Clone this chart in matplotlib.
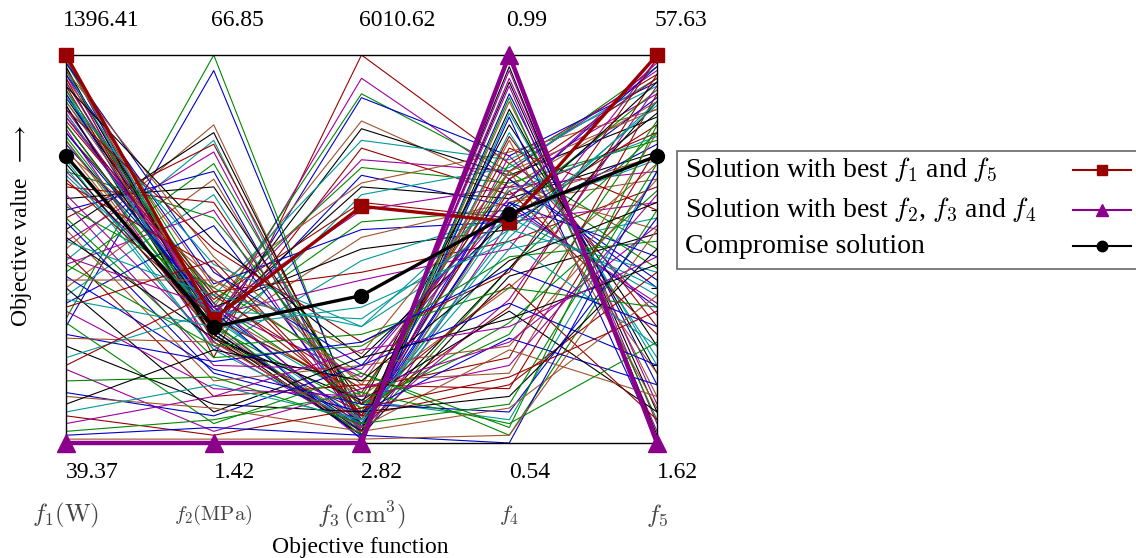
import numpy as np
import matplotlib
matplotlib.use("Agg")
import matplotlib.pyplot as plt
from matplotlib.lines import Line2D
from matplotlib.patches import Rectangle

plt.rcParams['font.family'] = ['Liberation Serif', 'DejaVu Serif']
plt.rcParams['mathtext.fontset'] = 'cm'

axis_names = [r'$f_1(\mathrm{W})$', r'$f_2(\mathrm{MPa})$', r'$f_3\,(\mathrm{cm}^3)$', r'$f_4$', r'$f_5$']
name_sizes = [18, 15, 18, 16, 18]
top_values = ['1396.41', '66.85', '6010.62', '0.99', '57.63']
bottom_values = ['39.37', '1.42', '2.82', '0.54', '1.62']

# normalised objective values (0 = min of axis, 1 = max of axis), one row per solution
# solutions that climb high on f3
ladder_lines = [
    [0.97, 0.22, 1.00, 0.72, 0.95],
    [0.95, 0.30, 0.94, 0.68, 0.90],
    [0.93, 0.33, 0.90, 0.70, 0.97],
    [0.99, 0.28, 0.89, 0.74, 0.93],
    [0.90, 0.35, 0.83, 0.66, 0.88],
    [0.96, 0.31, 0.81, 0.69, 0.84],
    [0.88, 0.38, 0.78, 0.73, 0.92],
    [0.92, 0.27, 0.76, 0.64, 0.80],
    [0.85, 0.33, 0.73, 0.70, 0.96],
    [0.98, 0.36, 0.71, 0.67, 0.78],
    [0.87, 0.29, 0.69, 0.61, 0.89],
    [0.94, 0.40, 0.67, 0.75, 0.86],
    [0.82, 0.32, 0.66, 0.63, 0.75],
    [0.91, 0.26, 0.64, 0.71, 0.94],
    [0.80, 0.37, 0.62, 0.58, 0.82],
    [0.86, 0.34, 0.60, 0.66, 0.70],
    [0.78, 0.30, 0.57, 0.60, 0.91],
    [0.95, 0.41, 0.55, 0.57, 0.77],
    [0.76, 0.28, 0.53, 0.62, 0.68],
    [0.89, 0.35, 0.50, 0.55, 0.85],
    [0.73, 0.24, 0.47, 0.59, 0.73],
    [0.84, 0.39, 0.44, 0.52, 0.66],
    [0.70, 0.33, 0.42, 0.50, 0.99],
]
# solutions with a high f2
peak_lines = [
    [0.32, 1.00, 0.03, 0.45, 0.80],
    [0.30, 0.96, 0.04, 0.62, 0.35],
    [0.50, 0.82, 0.02, 0.88, 0.12],
    [0.55, 0.80, 0.04, 0.93, 0.08],
    [0.47, 0.78, 0.01, 0.85, 0.20],
    [0.58, 0.77, 0.06, 0.79, 0.30],
    [0.52, 0.75, 0.03, 0.96, 0.05],
    [0.44, 0.72, 0.08, 0.70, 0.45],
    [0.60, 0.70, 0.02, 0.90, 0.15],
    [0.40, 0.68, 0.05, 0.66, 0.55],
    [0.63, 0.66, 0.10, 0.82, 0.25],
    [0.38, 0.64, 0.04, 0.60, 0.38],
    [0.66, 0.62, 0.07, 0.76, 0.60],
    [0.46, 0.60, 0.03, 0.94, 0.10],
    [0.70, 0.58, 0.12, 0.72, 0.50],
    [0.36, 0.56, 0.06, 0.68, 0.42],
]
# solutions bunched around f2 = 0.3 with a low f3
cluster_lines = [
    [0.99, 0.30, 0.02, 0.62, 0.74],
    [0.97, 0.28, 0.05, 0.45, 0.88],
    [0.96, 0.33, 0.03, 0.80, 0.22],
    [0.94, 0.26, 0.08, 0.35, 0.95],
    [0.93, 0.31, 0.01, 0.57, 0.62],
    [0.91, 0.36, 0.10, 0.28, 0.83],
    [0.90, 0.29, 0.04, 0.68, 0.40],
    [0.88, 0.34, 0.12, 0.40, 0.72],
    [0.87, 0.27, 0.02, 0.86, 0.18],
    [0.85, 0.32, 0.06, 0.50, 0.58],
    [0.83, 0.38, 0.14, 0.22, 0.90],
    [0.81, 0.25, 0.03, 0.74, 0.33],
    [0.79, 0.30, 0.09, 0.31, 0.65],
    [0.77, 0.35, 0.05, 0.62, 0.48],
    [0.75, 0.42, 0.16, 0.18, 0.80],
    [0.72, 0.28, 0.02, 0.43, 0.54],
    [0.69, 0.33, 0.11, 0.06, 0.70],
    [0.67, 0.45, 0.07, 0.65, 0.28],
    [0.64, 0.26, 0.04, 0.37, 0.92],
    [0.61, 0.40, 0.18, 0.02, 0.60],
]
# more solutions from the top of f1
upper_lines = [
    [0.98, 0.44, 0.20, 0.63, 0.97],
    [0.96, 0.48, 0.15, 0.70, 0.86],
    [0.92, 0.52, 0.22, 0.58, 0.93],
    [0.89, 0.46, 0.30, 0.65, 0.79],
    [0.86, 0.50, 0.26, 0.44, 0.99],
    [0.84, 0.36, 0.04, 0.92, 0.03],
    [0.82, 0.31, 0.02, 0.89, 0.06],
    [0.80, 0.34, 0.01, 0.84, 0.01],
    [0.78, 0.27, 0.06, 0.78, 0.09],
    [0.74, 0.29, 0.03, 0.97, 0.02],
    [0.71, 0.24, 0.05, 0.55, 0.87],
    [0.68, 0.32, 0.13, 0.68, 0.94],
    [0.62, 0.20, 0.19, 0.63, 0.98],
]
# solutions in the lower part of the chart
lower_lines = [
    [0.58, 0.22, 0.25, 0.48, 0.52],
    [0.57, 0.18, 0.08, 0.27, 0.15],
    [0.55, 0.16, 0.20, 0.25, 0.68],
    [0.53, 0.27, 0.11, 0.34, 0.08],
    [0.52, 0.38, 0.30, 0.55, 0.44],
    [0.49, 0.12, 0.15, 0.14, 0.76],
    [0.48, 0.35, 0.17, 0.61, 0.36],
    [0.46, 0.25, 0.28, 0.40, 0.35],
    [0.43, 0.19, 0.10, 0.08, 0.58],
    [0.42, 0.42, 0.23, 0.70, 0.18],
    [0.40, 0.08, 0.22, 0.32, 0.46],
    [0.37, 0.30, 0.35, 0.52, 0.25],
    [0.35, 0.47, 0.07, 0.15, 0.44],
    [0.34, 0.14, 0.12, 0.20, 0.64],
    [0.31, 0.05, 0.18, 0.04, 0.82],
    [0.28, 0.21, 0.26, 0.45, 0.30],
    [0.27, 0.26, 0.04, 0.24, 0.12],
    [0.25, 0.10, 0.08, 0.12, 0.50],
    [0.22, 0.34, 0.32, 0.58, 0.40],
    [0.20, 0.39, 0.10, 0.41, 0.06],
    [0.19, 0.03, 0.14, 0.26, 0.56],
    [0.16, 0.17, 0.05, 0.10, 0.72],
    [0.13, 0.07, 0.20, 0.36, 0.20],
    [0.12, 0.09, 0.03, 0.09, 0.38],
    [0.10, 0.24, 0.16, 0.47, 0.62],
    [0.08, 0.15, 0.06, 0.53, 0.88],
    [0.07, 0.02, 0.09, 0.17, 0.34],
    [0.05, 0.12, 0.24, 0.30, 0.48],
    [0.03, 0.06, 0.13, 0.05, 0.26],
    [0.02, 0.04, 0.02, 0.00, 0.70],
    [0.01, 0.01, 0.01, 0.02, 0.55],
]

best_f1_f5 = [1.00, 0.32, 0.61, 0.57, 1.00]
best_f2_f3_f4 = [0.00, 0.00, 0.00, 1.00, 0.00]
compromise = [0.74, 0.30, 0.38, 0.59, 0.74]

colors = ['#990000', '#a000a0', '#008800', '#0000cc', '#a0522d', '#000000', '#009999']

x = np.arange(len(axis_names))
all_lines = ladder_lines + peak_lines + cluster_lines + upper_lines + lower_lines

fig = plt.figure(figsize=(11.36, 5.58), dpi=100)
ax = fig.add_axes([66/1136, 115/558, 591/1136, 388/558])

for i, row in enumerate(all_lines):
    ax.plot(x, row, color=colors[i % len(colors)], lw=0.8)

ax.plot(x, best_f1_f5, color='#990000', lw=2.4, marker='s', ms=9.5, clip_on=False, zorder=5)
ax.plot(x, best_f2_f3_f4, color='#8b008b', lw=3.2, marker='^', ms=13, clip_on=False, zorder=6)
ax.plot(x, compromise, color='black', lw=2.4, marker='o', ms=10, clip_on=False, zorder=7)

ax.set_xlim(0, 4)
ax.set_ylim(0, 1)
ax.set_xticks([])
ax.yaxis.tick_right()
ax.set_yticks([0.2, 0.4, 0.6, 0.8])
ax.set_yticklabels([])
ax.tick_params(axis='y', direction='in', length=4)
for s in ax.spines.values():
    s.set_linewidth(1.0)

for i in range(len(axis_names)):
    ax.annotate(top_values[i], (x[i], 1), xycoords=('data', 'axes fraction'),
                xytext=(-2, 25), textcoords='offset points', ha='left', va='center', fontsize=17)
    ax.annotate(bottom_values[i], (x[i], 0), xycoords=('data', 'axes fraction'),
                xytext=(0, -21), textcoords='offset points', ha='left', va='center', fontsize=17)
    ax.annotate(axis_names[i], (x[i], 0), xycoords=('data', 'axes fraction'),
                xytext=(0, -52), textcoords='offset points', ha='center', va='center',
                fontsize=name_sizes[i], color='#444444')

fig.text(360/1136, 11/558, 'Objective function', ha='center', va='center', fontsize=17)
fig.text(22/1136, 1 - 226/558, r'Objective value  $\longrightarrow$', rotation=90,
         ha='center', va='center', fontsize=17)

# legend drawn by hand: text on the left, line sample on the right
fig.add_artist(Rectangle((677/1136, 1 - 269/558), 480/1136, 118/558, transform=fig.transFigure,
                         facecolor='white', edgecolor='#666666', lw=1.2, clip_on=False))
leg_labels = [r'Solution with best $f_1$ and $f_5$',
              r'Solution with best $f_2$, $f_3$ and $f_4$',
              'Compromise solution']
leg_styles = [('#990000', 's', 7), ('#8b008b', '^', 9), ('black', 'o', 7.5)]
leg_rows = [170, 210, 246]
for lab, (c, m, ms), yy in zip(leg_labels, leg_styles, leg_rows):
    fy = 1 - yy/558
    fig.text(685/1136, fy, lab, ha='left', va='center', fontsize=20)
    fig.add_artist(Line2D([1073/1136, 1131/1136], [fy, fy], transform=fig.transFigure,
                          color=c, lw=1.5))
    fig.add_artist(Line2D([1102/1136], [fy], transform=fig.transFigure,
                          color=c, marker=m, ms=ms, lw=0))

plt.savefig('out.png', dpi=100)
